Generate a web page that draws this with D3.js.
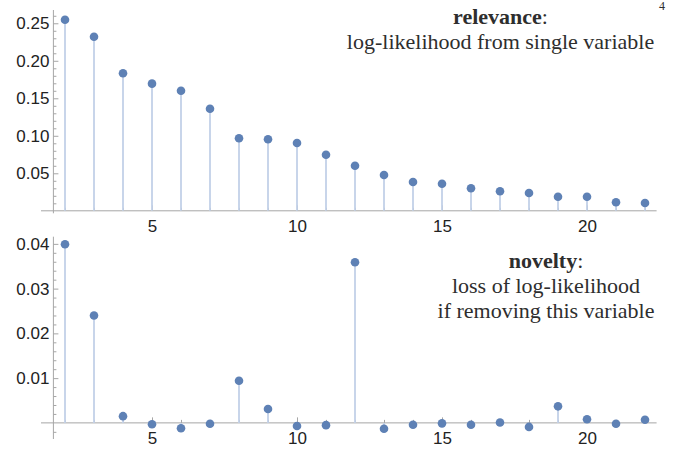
<!DOCTYPE html>
<html>
<head>
<meta charset="utf-8">
<script src="https://cdn.jsdelivr.net/npm/d3@7"></script>
<style>
  html, body { margin: 0; padding: 0; background: #fff; }
  svg { display: block; }
</style>
</head>
<body>
<svg id="chart" width="673" height="449"></svg>
<script>
// ---- data ----
const variableIndex = [2, 3, 4, 5, 6, 7, 8, 9, 10, 11, 12, 13, 14, 15, 16, 17, 18, 19, 20, 21, 22];
const relevance = [0.2548, 0.2321, 0.1833, 0.1695, 0.1601, 0.1361, 0.0967, 0.0953, 0.0904, 0.0748,
                   0.0601, 0.0477, 0.0384, 0.0361, 0.0300, 0.0260, 0.0237, 0.0188, 0.0188, 0.0113, 0.0104];
const novelty = [0.0399, 0.0240, 0.0015, -0.0003, -0.0012, -0.0002, 0.0094, 0.0031, -0.0007, -0.0005,
                 0.0359, -0.0013, -0.0004, -0.0001, -0.0004, 0.0001, -0.0009, 0.0037, 0.0008, -0.0002, 0.0007];
const xTicks = [5, 10, 15, 20];
const relevanceTicks = [0.05, 0.10, 0.15, 0.20, 0.25];
const noveltyTicks = [0.01, 0.02, 0.03, 0.04];
const relevanceTitle = ["relevance", "log-likelihood from single variable"];
const noveltyTitle = ["novelty", "loss of log-likelihood", "if removing this variable"];

// ---- styles ----
const axisColor = "#a6a6a6";
const pointColor = "#5e81b5";
const stemColor = "#c2d1e8";
const labelColor = "#222222";
const titleColor = "#2e2e2e";

const svg = d3.select("#chart");

const x = d3.scaleLinear().domain([1.6, 22.4]).range([53.4, 656.6]);

function panel(cfg) {
  const g = svg.append("g");
  const y = d3.scaleLinear().domain(cfg.yDomain).range(cfg.yRange);
  const y0 = y(0);

  // x-axis line (extends slightly left of the vertical axis)
  g.append("line")
    .attr("x1", 41).attr("x2", x.range()[1])
    .attr("y1", y0).attr("y2", y0)
    .attr("stroke", axisColor).attr("stroke-width", 1);
  // y-axis line
  g.append("line")
    .attr("x1", x.range()[0]).attr("x2", x.range()[0])
    .attr("y1", cfg.yRange[1]).attr("y2", cfg.yRange[0] + cfg.yExtra)
    .attr("stroke", axisColor).attr("stroke-width", 1);

  // minor x ticks (every integer)
  const xMinor = variableIndex.filter(v => !xTicks.includes(v));
  const xMinorAxis = d3.axisBottom(x).tickValues(xMinor).tickSizeInner(-3).tickSizeOuter(0).tickFormat("");
  const gxm = g.append("g").attr("transform", `translate(0,${y0})`).call(xMinorAxis);
  // major x ticks + labels
  const xAxis = d3.axisBottom(x).tickValues(xTicks).tickSizeInner(-5.5).tickSizeOuter(0).tickPadding(9).tickFormat(d3.format("d"));
  const gx = g.append("g").attr("transform", `translate(0,${y0})`).call(xAxis);

  // minor y ticks
  const yMinorAxis = d3.axisLeft(y).tickValues(cfg.yMinor).tickSizeInner(-3).tickSizeOuter(0).tickFormat("");
  const gym = g.append("g").attr("transform", `translate(${x.range()[0]},0)`).call(yMinorAxis);
  const yAxis = d3.axisLeft(y).tickValues(cfg.yTicks).tickSizeInner(-5).tickSizeOuter(0).tickPadding(4).tickFormat(d3.format(".2f"));
  const gy = g.append("g").attr("transform", `translate(${x.range()[0]},0)`).call(yAxis);

  [gxm, gx, gym, gy].forEach(a => {
    a.select(".domain").remove();
    a.selectAll(".tick line").attr("stroke", axisColor);
    a.selectAll(".tick text")
      .attr("fill", labelColor)
      .style("font-family", "'Liberation Sans', Arial, sans-serif")
      .style("font-size", "17px");
  });

  // stems (filling to axis)
  g.append("g").selectAll("line").data(cfg.values).join("line")
    .attr("x1", (d, i) => x(variableIndex[i])).attr("x2", (d, i) => x(variableIndex[i]))
    .attr("y1", y0).attr("y2", d => y(d))
    .attr("stroke", stemColor).attr("stroke-width", 1.8);

  // points
  g.append("g").selectAll("circle").data(cfg.values).join("circle")
    .attr("cx", (d, i) => x(variableIndex[i]))
    .attr("cy", d => y(d))
    .attr("r", 4.3)
    .attr("fill", pointColor);

  // title
  const t = g.append("text")
    .attr("text-anchor", "middle")
    .attr("fill", titleColor)
    .style("font-family", "'Liberation Serif', 'Times New Roman', serif")
    .style("font-size", "22px");
  const first = t.append("tspan").attr("x", cfg.titleX).attr("y", cfg.titleY);
  first.append("tspan").attr("font-weight", "bold").text(cfg.title[0]);
  first.append("tspan").text(":");
  cfg.title.slice(1).forEach((line, i) => {
    t.append("tspan").attr("x", cfg.titleX).attr("y", cfg.titleY + (i + 1) * cfg.lineGap).text(line);
  });
}

panel({
  values: relevance,
  yDomain: [0, 0.2677],
  yRange: [210.8, 10],
  yExtra: 2.5,
  yTicks: relevanceTicks,
  yMinor: d3.range(1, 27).map(v => v / 100).filter(v => !relevanceTicks.some(t => Math.abs(t - v) < 1e-9)),
  title: relevanceTitle,
  titleX: 500.5,
  titleY: 24,
  lineGap: 24.5
});

panel({
  values: novelty,
  yDomain: [-0.0036, 0.0416],
  yRange: [439, 236.7],
  yExtra: 0,
  yTicks: noveltyTicks,
  yMinor: d3.range(-1, 21).map(v => v * 0.002).filter(v => Math.abs(v) > 1e-9 && !noveltyTicks.some(t => Math.abs(t - v) < 1e-9)),
  title: noveltyTitle,
  titleX: 546,
  titleY: 268,
  lineGap: 25
});

// page number at top right
svg.append("text")
  .attr("x", 662).attr("y", 10)
  .attr("text-anchor", "middle")
  .attr("fill", titleColor)
  .style("font-family", "'Liberation Serif', 'Times New Roman', serif")
  .style("font-size", "12px")
  .text("4");
</script>
</body>
</html>
